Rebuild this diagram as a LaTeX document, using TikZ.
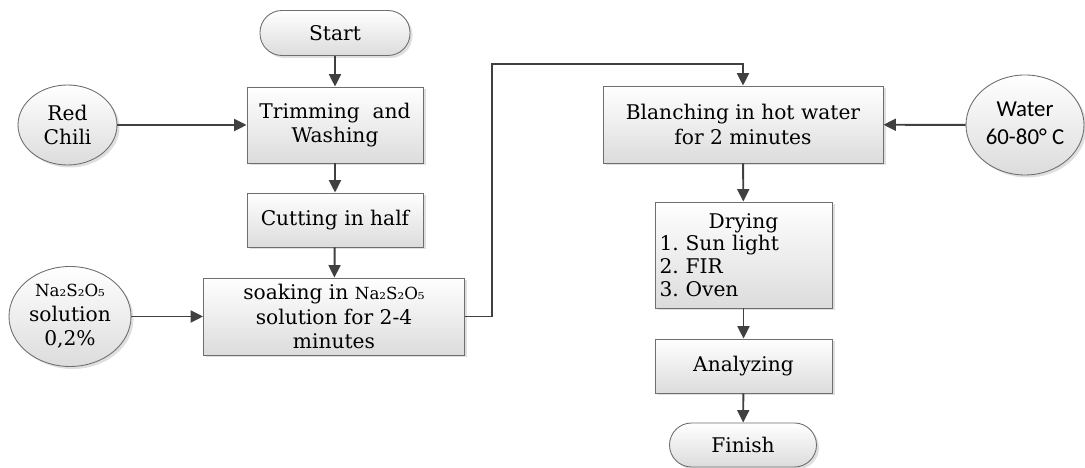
\documentclass[tikz,border=0pt]{standalone}
\usepackage{fontspec}
\setmainfont{DejaVu Serif}
\newfontfamily\calibri{Carlito}
\usepackage{tikz}
\usetikzlibrary{arrows.meta,shapes,positioning,shadows}
\definecolor{linegray}{RGB}{64,64,64}
\definecolor{edgegray}{RGB}{110,110,110}
\definecolor{shadegray}{RGB}{220,220,220}
\newcommand{\chem}{{\fontsize{9.5}{11}\selectfont Na₂S₂O₅}}
\frenchspacing

\tikzset{
  shadedfill/.style={draw=edgegray, line width=0.5pt, top color=white, bottom color=shadegray,
    drop shadow={shadow xshift=0.05cm, shadow yshift=-0.05cm, opacity=0.25}},
  procbox/.style={shadedfill, rectangle, align=center, inner sep=2pt},
  inbubble/.style={shadedfill, ellipse, align=center, inner sep=0pt},
  terminal/.style={shadedfill, rectangle, rounded corners=0.44cm, minimum height=0.9cm},
  flowline/.style={draw=linegray, line width=1.1pt, -{Triangle[length=0.25cm,width=0.24cm]}}
}

\begin{document}
\begin{tikzpicture}[font=\fontsize{11.5}{14}\selectfont]
            \useasboundingbox (0,0) rectangle (21.7,-9.36);

            % Left column
            \node[terminal, minimum width=3.0cm] (start) at (6.70,-0.66) {Start};
            \node[procbox, minimum width=3.52cm, minimum height=1.52cm] (trim) at (6.70,-2.50) {Trimming\ \ and\\Washing};
            \node[procbox, minimum width=3.52cm, minimum height=1.08cm] (cut) at (6.70,-4.40) {Cutting in half};
            \node[procbox, minimum width=5.22cm, minimum height=1.54cm] (soak) at (6.68,-6.33) {soaking in \chem\\solution for 2-4\\minutes};

            % Inputs on the left
            \node[inbubble, minimum width=1.98cm, minimum height=1.6cm] (chili) at (1.35,-2.50) {Red\\Chili};
            \node[inbubble, minimum width=2.44cm, minimum height=2.0cm] (meta) at (1.40,-6.33) {\chem\\solution\\0,2\%};

            % Right column
            \node[procbox, minimum width=5.6cm, minimum height=1.54cm] (blanch) at (14.86,-2.49) {Blanching in hot water\\for 2 minutes};
            \node[inbubble, minimum width=2.36cm, minimum height=2.0cm] (water) at (20.50,-2.50)
                {\calibri\fontsize{13}{16}\selectfont\begin{tabular}{@{}c@{}}Water\\60-80° C\end{tabular}};
            \node[procbox, minimum width=3.54cm, minimum height=2.12cm, text width=3.36cm, align=left,
                  font=\fontsize{11.5}{13}\selectfont] (dry) at (14.87,-5.10) {\makebox[\linewidth]{Drying}\\1. Sun light\\2. FIR\\3. Oven};
            \node[procbox, minimum width=3.54cm, minimum height=1.08cm] (anal) at (14.87,-7.32) {Analyzing};
            \node[terminal, minimum width=2.94cm, minimum height=0.88cm] (finish) at (14.86,-8.90) {Finish};

            % Flow
            \draw[flowline] (start) -- (trim);
            \draw[flowline] (trim) -- (cut);
            \draw[flowline] (cut) -- (soak);
            \draw[flowline] (chili) -- (trim);
            \draw[flowline] (meta) -- (soak);
            \coordinate (bend) at (9.84,-1.28);
            \draw[flowline] (soak.east) -| (bend) -| (blanch.north);
            \draw[flowline] (water) -- (blanch);
            \draw[flowline] (blanch) -- (dry);
            \draw[flowline] (dry) -- (anal);
            \draw[flowline] (anal) -- (finish);
        \end{tikzpicture}
\end{document}
